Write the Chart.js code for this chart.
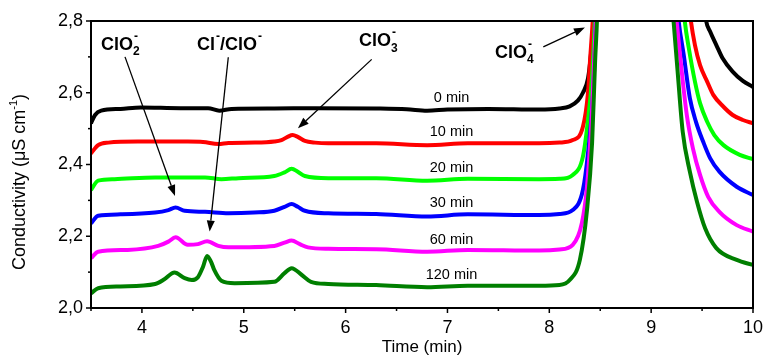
<!DOCTYPE html>
<html>
<head>
<meta charset="utf-8">
<script src="https://cdn.jsdelivr.net/npm/chart.js@4.4.1/dist/chart.umd.min.js"></script>
<style>
  html, body { margin: 0; padding: 0; background: #fff; }
</style>
</head>
<body>
<canvas id="chart" width="766" height="357"></canvas>
<script>
// Chromatogram traces, [time (min), conductivity (uS/cm)]
const runLabels = ["0 min", "10 min", "20 min", "30 min", "60 min", "120 min"];
const runColors = ["#000000", "#ff0000", "#00ff00", "#0000ff", "#ff00ff", "#007f00"];

const trace0 = [
  [3.5, 2.515], [3.54, 2.538], [3.6, 2.55], [3.79, 2.555], [3.99, 2.559], [4.38, 2.557], [4.65, 2.557],
  [4.76, 2.55], [4.88, 2.555], [5.3, 2.556], [5.7, 2.557], [6.3, 2.556], [6.6, 2.554], [6.8, 2.55],
  [7.0, 2.553], [7.4, 2.555], [7.9, 2.553], [8.1, 2.556], [8.2, 2.562], [8.28, 2.578], [8.33, 2.6],
  [8.38, 2.64], [8.41, 2.71], [8.44, 2.82], [8.5, 3.3], [9.0, 4.0], [9.5, 2.9], [9.54, 2.8],
  [9.58, 2.77], [9.64, 2.733], [9.7, 2.697], [9.8, 2.659], [9.9, 2.633], [10, 2.616]
];
const trace10 = [
  [3.5, 2.431], [3.57, 2.454], [3.67, 2.461], [3.96, 2.464], [4.45, 2.464], [4.6, 2.463], [4.75, 2.457],
  [4.85, 2.46], [5.11, 2.461], [5.3, 2.464], [5.37, 2.468], [5.43, 2.477], [5.48, 2.482], [5.53, 2.477],
  [5.6, 2.466], [5.7, 2.461], [5.83, 2.459], [6.3, 2.459], [6.8, 2.454], [7.2, 2.459], [7.9, 2.459],
  [8.1, 2.461], [8.23, 2.468], [8.33, 2.505], [8.38, 2.6], [8.4, 2.69], [8.43, 2.82], [8.5, 3.3],
  [9.0, 4.0], [9.35, 2.9], [9.39, 2.8], [9.43, 2.733], [9.48, 2.677], [9.55, 2.631], [9.61, 2.594],
  [9.71, 2.561], [9.8, 2.538], [9.9, 2.524], [10, 2.515]
];
const trace20 = [
  [3.5, 2.329], [3.57, 2.355], [3.73, 2.359], [4.13, 2.364], [4.62, 2.364], [4.78, 2.359], [4.95, 2.362],
  [5.3, 2.368], [5.4, 2.378], [5.47, 2.388], [5.53, 2.38], [5.6, 2.368], [5.83, 2.362], [6.3, 2.362],
  [6.8, 2.355], [7.2, 2.36], [7.9, 2.359], [8.1, 2.36], [8.23, 2.371], [8.33, 2.422], [8.38, 2.524],
  [8.42, 2.645], [8.45, 2.82], [8.5, 3.2], [9.0, 4.0], [9.3, 2.9], [9.33, 2.8], [9.37, 2.724],
  [9.43, 2.631], [9.48, 2.571], [9.55, 2.519], [9.62, 2.482], [9.71, 2.454], [9.87, 2.427], [10, 2.415]
];
const trace30 = [
  [3.5, 2.236], [3.57, 2.257], [3.79, 2.261], [4.13, 2.266], [4.26, 2.273], [4.33, 2.28], [4.42, 2.271],
  [4.62, 2.268], [4.85, 2.264], [5.1, 2.266], [5.3, 2.271], [5.4, 2.282], [5.47, 2.29], [5.53, 2.282],
  [5.6, 2.271], [5.83, 2.264], [6.3, 2.262], [6.8, 2.255], [7.2, 2.261], [7.9, 2.259], [8.1, 2.262],
  [8.23, 2.273], [8.33, 2.329], [8.38, 2.432], [8.43, 2.6], [8.46, 2.82], [8.5, 3.2], [9.0, 4.0],
  [9.24, 2.9], [9.27, 2.8], [9.32, 2.705], [9.38, 2.585], [9.44, 2.519], [9.51, 2.464], [9.58, 2.417],
  [9.67, 2.38], [9.84, 2.338], [10, 2.315]
];
const trace60 = [
  [3.5, 2.139], [3.57, 2.157], [3.86, 2.162], [4.16, 2.173], [4.26, 2.185], [4.33, 2.197], [4.45, 2.176],
  [4.55, 2.178], [4.64, 2.186], [4.75, 2.173], [4.85, 2.169], [5.3, 2.173], [5.4, 2.182], [5.47, 2.188],
  [5.55, 2.178], [5.63, 2.169], [5.83, 2.165], [6.3, 2.164], [6.8, 2.157], [7.2, 2.162], [7.9, 2.16],
  [8.1, 2.163], [8.23, 2.176], [8.32, 2.237], [8.37, 2.338], [8.42, 2.552], [8.46, 2.82], [8.5, 3.2],
  [9.0, 4.0], [9.22, 2.9], [9.25, 2.8], [9.29, 2.687], [9.35, 2.538], [9.41, 2.445], [9.48, 2.371],
  [9.56, 2.31], [9.67, 2.268], [9.84, 2.231], [10, 2.213]
];
const trace120 = [
  [3.5, 2.041], [3.57, 2.055], [3.79, 2.06], [4.13, 2.067], [4.22, 2.08], [4.32, 2.099], [4.42, 2.083],
  [4.49, 2.078], [4.55, 2.086], [4.6, 2.115], [4.64, 2.145], [4.68, 2.128], [4.71, 2.106], [4.78, 2.076],
  [4.91, 2.069], [5.3, 2.073], [5.4, 2.097], [5.47, 2.111], [5.57, 2.092], [5.66, 2.073], [5.83, 2.067],
  [6.3, 2.064], [6.8, 2.058], [7.2, 2.062], [7.9, 2.062], [8.1, 2.064], [8.2, 2.078], [8.3, 2.134],
  [8.37, 2.273], [8.42, 2.46], [8.45, 2.69], [8.47, 2.82], [8.5, 3.2], [9.0, 4.0], [9.19, 2.9],
  [9.22, 2.8], [9.26, 2.659], [9.31, 2.491], [9.38, 2.38], [9.45, 2.296], [9.53, 2.222], [9.64, 2.167],
  [9.84, 2.134], [10, 2.12]
];
const traces = [trace0, trace10, trace20, trace30, trace60, trace120];

// where the run labels sit (centre of text, in axis units)
const runLabelX = 7.04;
const runLabelY = [2.585, 2.49, 2.39, 2.292, 2.19, 2.092];

// peak callouts: text parts, text anchor, arrow from -> to (axis units)
const callouts = [
  { parts: [{ t: "ClO" }, { sup: "-", sub: "2" }], at: [3.598, 2.719], from: [3.834, 2.70], to: [4.325, 2.312] },
  { parts: [{ t: "Cl" }, { sup: "-" }, { t: "/ClO" }, { sup: "-" }], at: [4.541, 2.719], from: [4.848, 2.699], to: [4.665, 2.213] },
  { parts: [{ t: "ClO" }, { sup: "-", sub: "3" }], at: [6.131, 2.73], from: [6.256, 2.693], to: [5.532, 2.501] },
  { parts: [{ t: "ClO" }, { sup: "-", sub: "4" }], at: [7.467, 2.697], from: [7.941, 2.728], to: [8.35, 2.782] }
];

const FONT = "'Liberation Sans', Arial, Helvetica, sans-serif";

const drawParts = (ctx, x, y, parts, size) => {
  const small = Math.round(size * 0.66);
  let cx = x;
  parts.forEach((p) => {
    if (p.t) {
      ctx.font = `bold ${size}px ${FONT}`;
      ctx.fillText(p.t, cx, y);
      cx += ctx.measureText(p.t).width;
    } else {
      ctx.font = `bold ${small}px ${FONT}`;
      let w = 0;
      if (p.sup) {
        ctx.fillText(p.sup, cx + 1, y - size * 0.55);
        w = Math.max(w, ctx.measureText(p.sup).width + 1);
      }
      if (p.sub) {
        ctx.fillText(p.sub, cx, y + size * 0.3);
        w = Math.max(w, ctx.measureText(p.sub).width);
      }
      cx += w;
    }
  });
};

const drawArrow = (ctx, x1, y1, x2, y2) => {
  const ang = Math.atan2(y2 - y1, x2 - x1);
  const len = 11, half = 4;
  const bx = x2 - len * Math.cos(ang), by = y2 - len * Math.sin(ang);
  ctx.beginPath();
  ctx.moveTo(x1, y1);
  ctx.lineTo(bx, by);
  ctx.lineWidth = 1.3;
  ctx.stroke();
  ctx.beginPath();
  ctx.moveTo(x2, y2);
  ctx.lineTo(bx + half * Math.sin(ang), by - half * Math.cos(ang));
  ctx.lineTo(bx - half * Math.sin(ang), by + half * Math.cos(ang));
  ctx.closePath();
  ctx.fill();
};

const framePlugin = {
  id: "frame",
  afterDraw(chart) {
    const { ctx, chartArea: a, scales } = chart;
    const xs = scales.x, ys = scales.y;
    ctx.save();
    ctx.strokeStyle = "#000";
    ctx.fillStyle = "#000";

    // box
    ctx.lineWidth = 2;
    ctx.strokeRect(a.left, a.top, a.right - a.left, a.bottom - a.top);

    // outward ticks, short ones for minor steps
    ctx.lineWidth = 1.5;
    xs.ticks.forEach((t) => {
      const px = xs.getPixelForValue(t.value);
      const len = Number.isInteger(Math.round(t.value * 100) / 100) ? 5 : 3;
      ctx.beginPath();
      ctx.moveTo(px, a.bottom);
      ctx.lineTo(px, a.bottom + len);
      ctx.stroke();
    });
    ys.ticks.forEach((t) => {
      const py = ys.getPixelForValue(t.value);
      const len = Math.round(t.value * 10) % 2 === 0 ? 5 : 3;
      ctx.beginPath();
      ctx.moveTo(a.left, py);
      ctx.lineTo(a.left - len, py);
      ctx.stroke();
    });

    // axis titles
    ctx.textBaseline = "middle";
    ctx.textAlign = "center";
    ctx.font = `17px ${FONT}`;
    ctx.fillText("Time (min)", (a.left + a.right) / 2, 347);

    ctx.save();
    ctx.translate(20, 182);
    ctx.rotate(-Math.PI / 2);
    const main = "Conductivity (\u03bcS cm";
    ctx.font = `18px ${FONT}`;
    const wMain = ctx.measureText(main).width;
    const wClose = ctx.measureText(")").width;
    ctx.font = `11px ${FONT}`;
    const wSup = ctx.measureText("-1").width;
    let sx = -(wMain + wSup + wClose) / 2;
    ctx.textAlign = "left";
    ctx.font = `18px ${FONT}`;
    ctx.fillText(main, sx, 0);
    sx += wMain;
    ctx.font = `11px ${FONT}`;
    ctx.fillText("-1", sx, -6);
    sx += wSup;
    ctx.font = `18px ${FONT}`;
    ctx.fillText(")", sx, 0);
    ctx.restore();

    // run labels
    ctx.font = `14.5px ${FONT}`;
    ctx.textAlign = "center";
    runLabels.forEach((lab, i) => {
      ctx.fillText(lab, xs.getPixelForValue(runLabelX), ys.getPixelForValue(runLabelY[i]));
    });

    // peak callouts
    ctx.textAlign = "left";
    ctx.textBaseline = "alphabetic";
    callouts.forEach((c) => {
      drawParts(ctx, xs.getPixelForValue(c.at[0]), ys.getPixelForValue(c.at[1]), c.parts, 18);
      drawArrow(ctx,
        xs.getPixelForValue(c.from[0]), ys.getPixelForValue(c.from[1]),
        xs.getPixelForValue(c.to[0]), ys.getPixelForValue(c.to[1]));
    });

    ctx.restore();
  }
};

const datasets = traces.map((tr, i) => ({
  label: runLabels[i],
  data: tr.map(([x, y]) => ({ x, y })),
  borderColor: runColors[i],
  borderWidth: 4,
  pointRadius: 0,
  fill: false,
  cubicInterpolationMode: "monotone",
  order: traces.length - i,
}));

new Chart(document.getElementById("chart"), {
  type: "line",
  data: { datasets },
  options: {
    responsive: false,
    animation: false,
    events: [],
    layout: { padding: { left: 0, top: 21, right: 13, bottom: 0 } },
    plugins: { legend: { display: false }, tooltip: { enabled: false } },
    scales: {
      x: {
        type: "linear",
        min: 3.5,
        max: 10,
        afterFit: (s) => { s.height = 49; s.paddingLeft = 0; s.paddingRight = 0; },
        grid: { display: false, drawTicks: false },
        border: { display: false },
        ticks: {
          stepSize: 0.5,
          autoSkip: false,
          maxRotation: 0,
          padding: 9,
          color: "#000",
          font: { family: FONT, size: 18 },
          callback: (v) => (Number.isInteger(Math.round(v * 100) / 100) ? String(Math.round(v)) : ""),
        },
      },
      y: {
        min: 2.0,
        max: 2.8,
        afterFit: (s) => { s.width = 91; s.paddingTop = 0; s.paddingBottom = 0; },
        grid: { display: false, drawTicks: false },
        border: { display: false },
        ticks: {
          stepSize: 0.1,
          autoSkip: false,
          padding: 8,
          color: "#000",
          font: { family: FONT, size: 18 },
          callback: (v) => (Math.round(v * 10) % 2 === 0 ? v.toFixed(1).replace(".", ",") : ""),
        },
      },
    },
  },
  plugins: [framePlugin],
});
</script>
</body>
</html>
